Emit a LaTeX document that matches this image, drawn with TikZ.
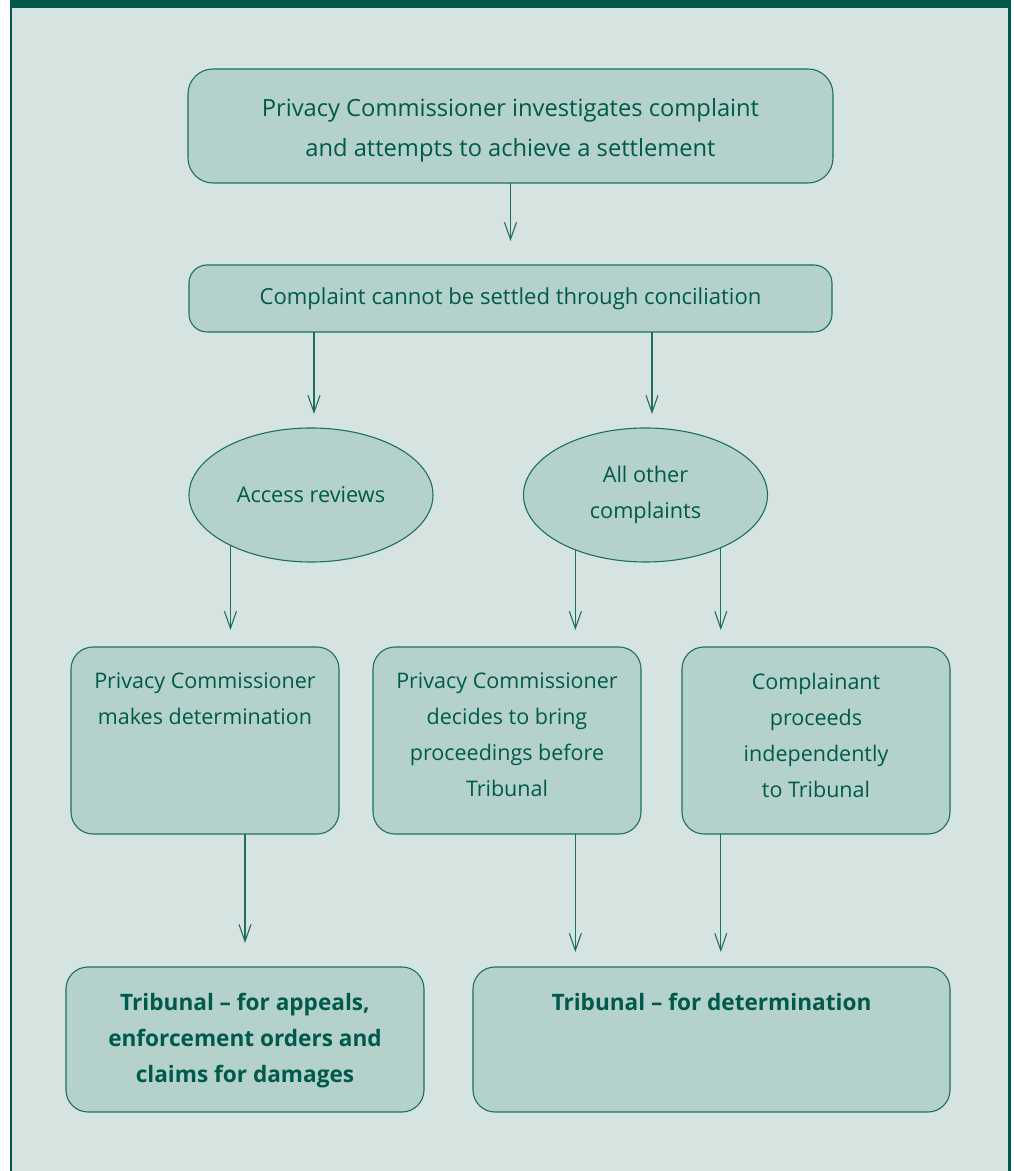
\documentclass[tikz,border=0pt]{standalone}
\usepackage{fontspec}
\setmainfont{Open Sans}
\usetikzlibrary{arrows.meta,positioning,shapes.geometric}
\definecolor{frame}{HTML}{00594A}
\definecolor{paper}{HTML}{D5E4E1}
\definecolor{boxfill}{HTML}{B4D1CB}
\definecolor{ink}{HTML}{005A4B}
\definecolor{edge}{HTML}{1F6E5F}
\tikzset{
  procbox/.style={draw=edge, fill=boxfill, rounded corners=22pt, align=center,
    text=ink, font=\fontsize{21.5}{36}\selectfont, inner sep=0pt, outer sep=0pt,
    line width=1.1pt},
  tallbox/.style={procbox, minimum width=268pt, minimum height=187pt},
  resultbox/.style={procbox, minimum height=145pt},
  ovalnode/.style={ellipse, draw=edge, fill=boxfill, align=center, text=ink,
    font=\fontsize{21.7}{36}\selectfont, inner sep=0pt, outer sep=0pt,
    minimum width=244pt, minimum height=134pt, line width=1.1pt},
  toptext/.style={anchor=north, align=center, text=ink, inner sep=0pt,
    font=\fontsize{21.5}{36}\selectfont, label distance=-26pt},
  boldtext/.style={toptext, font=\fontsize{22.6}{36}\selectfont\bfseries},
  arr/.style={-{Straight Barb[length=17pt, width=12pt]}, line width=1.1pt, draw=edge}
}
\begin{document}
\begin{tikzpicture}[x=1pt,y=1pt]
  \useasboundingbox (0,0) rectangle (1013,1171);
  \fill[paper] (12,0) rectangle (1008,1163);
  \fill[frame] (10,0) rectangle (12,1171);
  \fill[frame] (1008,0) rectangle (1011,1171);
  \fill[frame] (10,1163) rectangle (1011,1171);

  \node[procbox, minimum width=645pt, minimum height=114pt, rounded corners=25pt,
    label={[anchor=center, yshift=-4.5pt, align=center, text=ink, inner sep=0pt,
      font=\fontsize{23.7}{40}\selectfont]center:Privacy Commissioner investigates complaint\\and attempts to achieve a settlement}]
    (invest) at (510.5,1045) {};
  \node[procbox, minimum width=643pt, minimum height=67pt, rounded corners=18pt,
    font=\fontsize{22.1}{36}\selectfont] (nosettle) at (510.5,872.5)
    {Complaint cannot be settled through conciliation};

  \node[ovalnode] (access) at (311,676) {Access reviews};
  \node[ovalnode] (other) at (645.5,676) {All other\\complaints};

  \node[tallbox, label={[toptext]north:Privacy Commissioner\\makes determination}]
    (pcdet) at (205,430.5) {};
  \node[tallbox, label={[toptext]north:Privacy Commissioner\\decides to bring\\proceedings before\\Tribunal}]
    (pcbring) at (507,430.5) {};
  \node[tallbox, label={[toptext]north:Complainant\\proceeds\\independently\\to Tribunal}]
    (indep) at (816,430.5) {};

  \node[resultbox, minimum width=358pt, label={[boldtext]north:Tribunal -- for appeals,\\enforcement orders and\\claims for damages}]
    (tribapp) at (245,131.5) {};
  \node[resultbox, minimum width=477pt, label={[boldtext]north:Tribunal -- for determination}]
    (tribdet) at (711.5,131.5) {};

  \draw[arr, shorten >=24pt] (invest.south) -- (nosettle.north);
  \draw[arr, shorten >=14pt] ([xshift=3pt]access.north |- nosettle.south) -- ([xshift=3pt]access.north);
  \draw[arr, shorten >=14pt] ([xshift=6.5pt]other.north |- nosettle.south) -- ([xshift=6.5pt]other.north);
  \draw[arr, shorten >=17pt] (access.212) -- (access.212 |- pcdet.north);
  \draw[arr, shorten >=17pt] (other.218) -- (other.218 |- pcbring.north);
  \draw[arr, shorten >=17pt] (other.325) -- (other.325 |- indep.north);
  \draw[arr, shorten >=24pt] (tribapp.north |- pcdet.south) -- (tribapp.north);
  \draw[arr, shorten >=15pt] (pcbring.south -| other.218) -- (tribdet.north -| other.218);
  \draw[arr, shorten >=15pt] (indep.south -| other.325) -- (tribdet.north -| other.325);
\end{tikzpicture}
\end{document}
